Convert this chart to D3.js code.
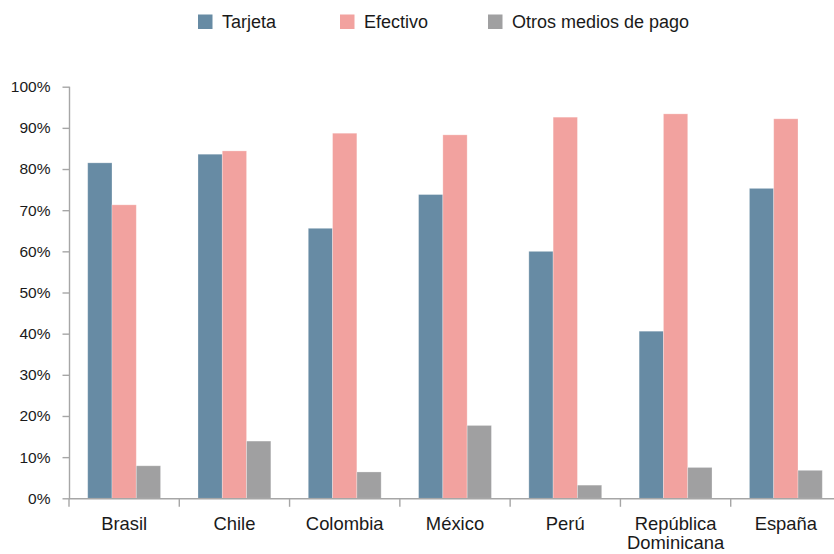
<!DOCTYPE html>
<html><head><meta charset="utf-8">
<script src="https://cdn.jsdelivr.net/npm/d3@7"></script>
<style>body{margin:0;background:#fff}svg{display:block;font-family:"Liberation Sans",Arial,sans-serif}</style>
</head><body><svg id="c" width="834" height="554"></svg>
<script>
const categories = ["Brasil","Chile","Colombia","México","Perú","República\nDominicana","España"];
const seriesNames = ["Tarjeta","Efectivo","Otros medios de pago"];
const tarjeta = [81.5,83.6,65.6,73.8,60.0,40.6,75.3];
const efectivo = [71.3,84.4,88.7,88.3,92.6,93.4,92.2];
const otros = [7.9,13.9,6.4,17.7,3.2,7.5,6.8];
const yTicks = [0,10,20,30,40,50,60,70,80,90,100];
const colors = ["#678ba4","#f2a29f","#a0a0a1"];

const svg = d3.select("#c");
const x = d3.scaleBand().domain(categories).range([69,841]).paddingInner(0).paddingOuter(0);
const x1 = d3.scaleBand().domain(seriesNames).range([0,x.bandwidth()]).paddingInner(0).paddingOuter(0.77);
const y = d3.scaleLinear().domain([0,100]).range([498.3,86.7]);
const data = [tarjeta,efectivo,otros];

// bars
seriesNames.forEach((s,si)=>{
  svg.append("g").selectAll("rect").data(data[si]).join("rect")
    .attr("x",(d,i)=>x(categories[i])+x1(s))
    .attr("width",x1.bandwidth())
    .attr("y",d=>y(d))
    .attr("height",d=>y(0)-y(d))
    .attr("fill",colors[si])
    .attr("stroke","rgba(255,255,255,0.35)").attr("stroke-width",0.8);
});

// y axis
const ya = svg.append("g").attr("transform","translate(69.5,0)")
  .call(d3.axisLeft(y).tickValues(yTicks).tickFormat(d=>d+"%").tickSize(7).tickPadding(12));
ya.selectAll("text").attr("font-size",15.5).attr("fill","#1a1a1a").attr("font-family","Liberation Sans, Arial, sans-serif");
ya.selectAll("line,path").attr("stroke","#a6a6a6").attr("stroke-width",1.4);
ya.select(".domain").attr("d","M0,"+y(100)+"V"+y(0));

// x axis
const xa = svg.append("g").attr("transform","translate(0,"+(y(0)+0.5)+")");
xa.append("line").attr("x1",69).attr("x2",841).attr("stroke","#a6a6a6").attr("stroke-width",1.4);
const bounds = categories.map(c=>x(c)).concat([x.range()[1]]);
xa.selectAll("line.t").data(bounds).join("line").attr("class","t")
  .attr("x1",d=>d).attr("x2",d=>d).attr("y1",0).attr("y2",8)
  .attr("stroke","#a6a6a6").attr("stroke-width",1.4);
categories.forEach(c=>{
  const t = xa.append("text").attr("text-anchor","middle").attr("font-size",18.4).attr("fill","#1a1a1a")
    .attr("x",x(c)+x.bandwidth()/2).attr("y",30.8);
  c.split("\n").forEach((ln,k)=>t.append("tspan").attr("x",x(c)+x.bandwidth()/2).attr("dy",k?19.8:0).text(ln));
});

// legend
const legX = [198,340,488];
seriesNames.forEach((s,i)=>{
  svg.append("rect").attr("x",legX[i]).attr("y",14.5).attr("width",14.5).attr("height",14.5).attr("fill",colors[i]);
  svg.append("text").attr("x",legX[i]+24).attr("y",28).attr("font-size",18).attr("fill","#1a1a1a").text(s);
});
</script></body></html>
